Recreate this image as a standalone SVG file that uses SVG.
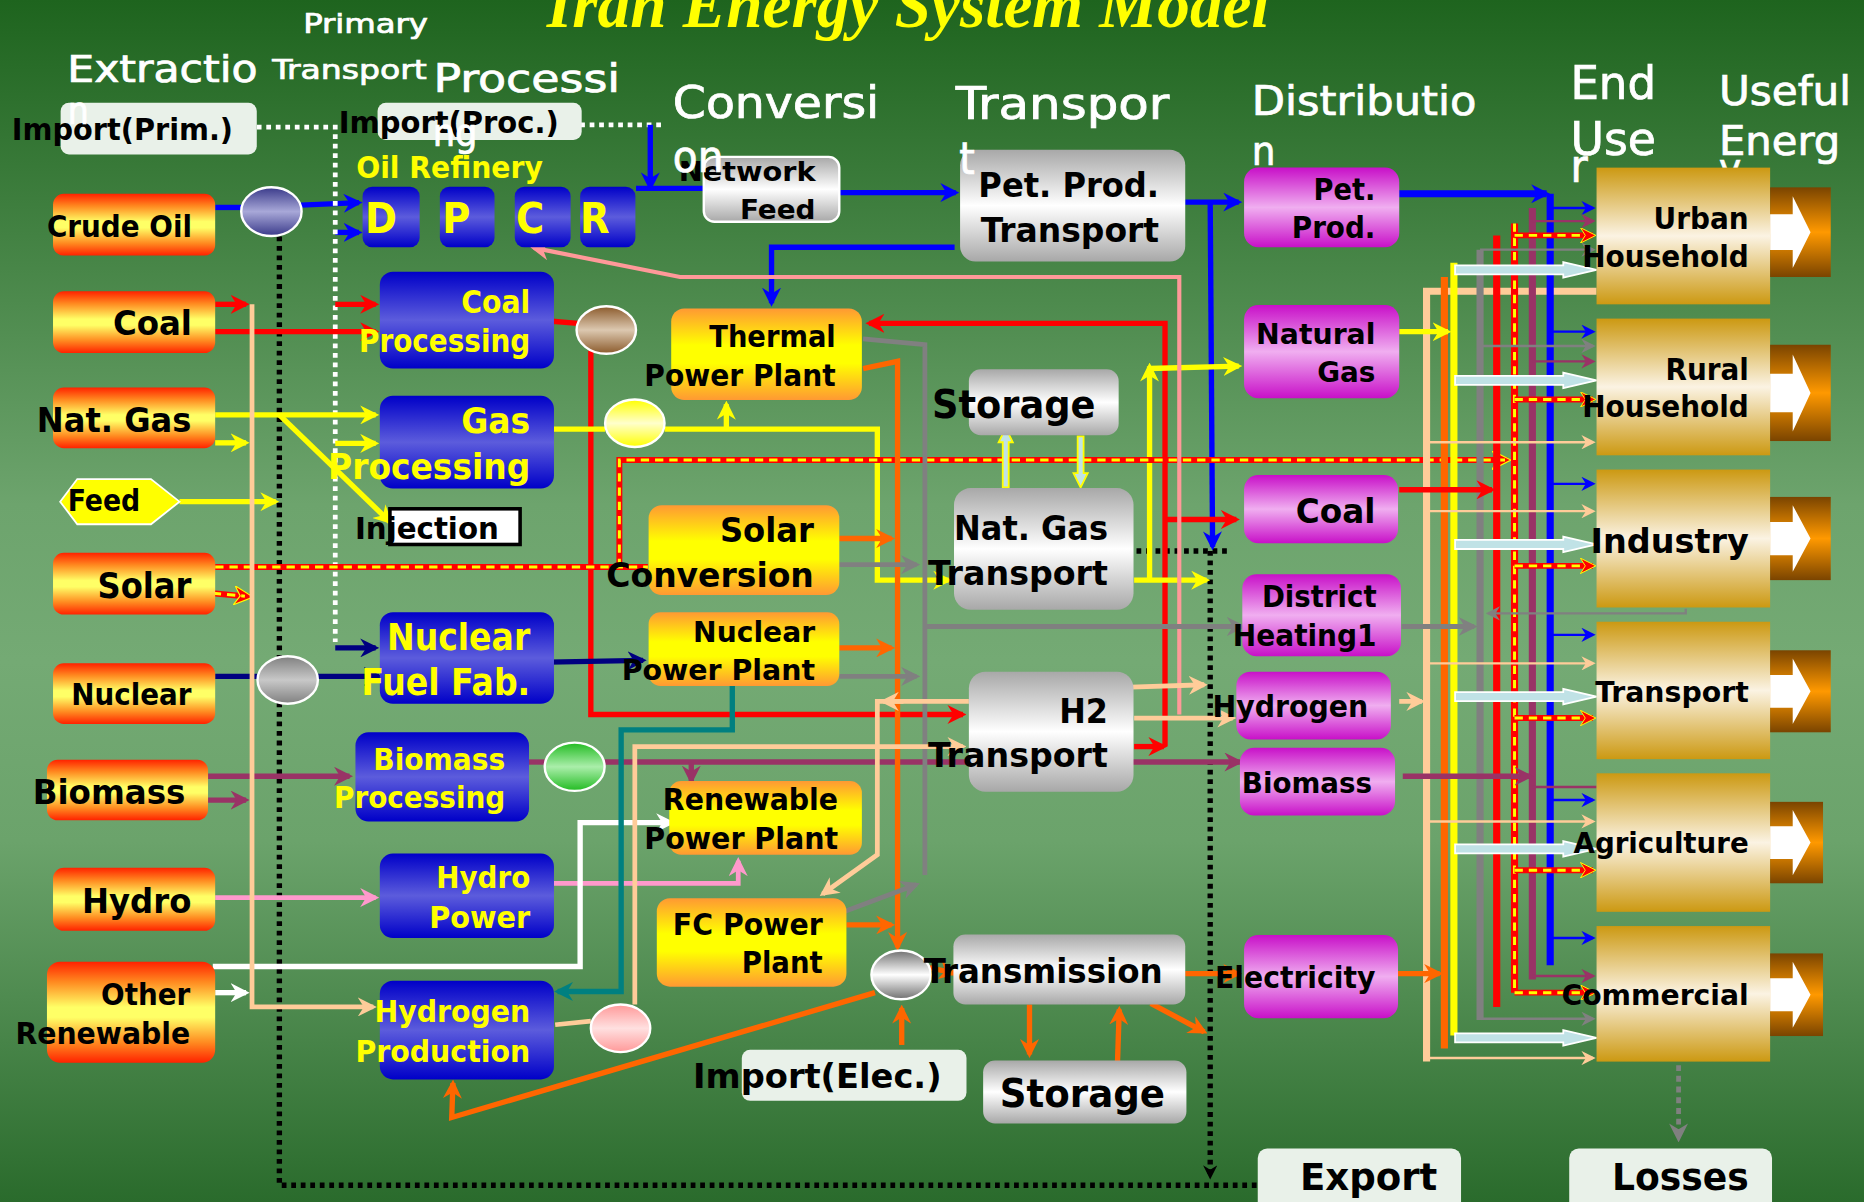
<svg xmlns="http://www.w3.org/2000/svg" width="1864" height="1202" viewBox="0 0 1864 1202">
<defs>
<style>
.f{font-family:'DejaVu Sans Condensed','DejaVu Sans','Liberation Sans',sans-serif;font-stretch:condensed}
.hd{fill:#fff;stroke:#fff;stroke-width:0.6}
.bk{fill:#000;font-weight:bold}
.yl{fill:#ffff00;font-weight:bold}
.k{fill:none;stroke-linejoin:miter}
.bl{stroke:#0000ff;stroke-width:4.5}
.nv{stroke:#000080;stroke-width:4.5}
.rd{stroke:#ff0000;stroke-width:4.5}
.ye{stroke:#ffff00;stroke-width:4.5}
.or{stroke:#ff6600;stroke-width:4.5}
.gr{stroke:#808080;stroke-width:4}
.pc{stroke:#ffcc99;stroke-width:4}
.pu{stroke:#993366;stroke-width:4.5}
.pk{stroke:#ff99cc;stroke-width:4}
.sa{stroke:#ff9999;stroke-width:3.5}
.te{stroke:#008080;stroke-width:4.5}
.wh{stroke:#ffffff;stroke-width:4.5}
.dk{stroke:#000;stroke-width:4.5;stroke-dasharray:4 4}
.dw{stroke:#fff;stroke-width:4;stroke-dasharray:4 4}
.ryr{stroke:#ff0000;stroke-width:5}
.ryy{stroke:#ffff00;stroke-width:2.5;stroke-dasharray:7 5}
.bus{stroke-width:6}
.thin{stroke-width:2}
.lb{fill:#c0e2e6;stroke:#fff;stroke-width:1.5}
.lbs{fill:#c0e2e6;stroke:#ffff00;stroke-width:1.5}
.ext{fill:url(#gExt)}
.pro{fill:url(#gBlue)}
.cnv{fill:url(#gConv)}
.trn{fill:url(#gGrey)}
.dis{fill:url(#gMag)}
.end{fill:url(#gGold)}
.ue{fill:url(#gBrown)}
.lt{fill:#e9f1e9}
.hub{stroke:#fff;stroke-width:2}
</style>
<linearGradient id="bg" x1="0" y1="0" x2="0" y2="1">
<stop offset="0" stop-color="#1e641e"/><stop offset="0.42" stop-color="#6da46d"/><stop offset="0.55" stop-color="#74aa74"/><stop offset="0.7" stop-color="#6ba36b"/><stop offset="1" stop-color="#2a6b2c"/>
</linearGradient>
<linearGradient id="gExt" x1="0" y1="0" x2="0" y2="1">
<stop offset="0" stop-color="#ff2200"/><stop offset="0.2" stop-color="#ff8a20"/><stop offset="0.45" stop-color="#ffff66"/><stop offset="0.55" stop-color="#ffff66"/><stop offset="0.8" stop-color="#ff8a20"/><stop offset="1" stop-color="#ff2200"/>
</linearGradient>
<linearGradient id="gBlue" x1="0" y1="0" x2="0" y2="1">
<stop offset="0" stop-color="#0000c8"/><stop offset="0.5" stop-color="#5c5cdc"/><stop offset="1" stop-color="#0000c8"/>
</linearGradient>
<linearGradient id="gConv" x1="0" y1="0" x2="0" y2="1">
<stop offset="0" stop-color="#ff9933"/><stop offset="0.4" stop-color="#ffff00"/><stop offset="0.6" stop-color="#ffff00"/><stop offset="1" stop-color="#ff9933"/>
</linearGradient>
<linearGradient id="gGrey" x1="0" y1="0" x2="0" y2="1">
<stop offset="0" stop-color="#a8a8a8"/><stop offset="0.5" stop-color="#ffffff"/><stop offset="1" stop-color="#a8a8a8"/>
</linearGradient>
<linearGradient id="gMag" x1="0" y1="0" x2="0" y2="1">
<stop offset="0" stop-color="#c810c8"/><stop offset="0.5" stop-color="#f0aef0"/><stop offset="1" stop-color="#c810c8"/>
</linearGradient>
<linearGradient id="gGold" x1="0" y1="0" x2="0" y2="1">
<stop offset="0" stop-color="#cc9912"/><stop offset="0.5" stop-color="#fbf3e3"/><stop offset="1" stop-color="#cc9912"/>
</linearGradient>
<linearGradient id="gBrown" x1="0" y1="0" x2="0" y2="1">
<stop offset="0" stop-color="#7a4400"/><stop offset="0.5" stop-color="#ff9900"/><stop offset="1" stop-color="#7a4400"/>
</linearGradient>
<linearGradient id="cCrude" x1="0" y1="0" x2="0" y2="1"><stop offset="0" stop-color="#3a3a8a"/><stop offset="0.5" stop-color="#a8a8d8"/><stop offset="1" stop-color="#3a3a8a"/></linearGradient>
<linearGradient id="cCoal" x1="0" y1="0" x2="0" y2="1"><stop offset="0" stop-color="#8b5a2b"/><stop offset="0.5" stop-color="#dcc8b0"/><stop offset="1" stop-color="#8b5a2b"/></linearGradient>
<linearGradient id="cGas" x1="0" y1="0" x2="0" y2="1"><stop offset="0" stop-color="#ffff00"/><stop offset="0.5" stop-color="#ffffcc"/><stop offset="1" stop-color="#ffff00"/></linearGradient>
<linearGradient id="cNuc" x1="0" y1="0" x2="0" y2="1"><stop offset="0" stop-color="#808080"/><stop offset="0.5" stop-color="#c8c8c8"/><stop offset="1" stop-color="#808080"/></linearGradient>
<linearGradient id="cBio" x1="0" y1="0" x2="0" y2="1"><stop offset="0" stop-color="#22bb22"/><stop offset="0.5" stop-color="#aaeeaa"/><stop offset="1" stop-color="#22bb22"/></linearGradient>
<linearGradient id="cH2" x1="0" y1="0" x2="0" y2="1"><stop offset="0" stop-color="#ff9999"/><stop offset="0.5" stop-color="#ffe0e0"/><stop offset="1" stop-color="#ff9999"/></linearGradient>
<linearGradient id="cEl" x1="0" y1="0" x2="0" y2="1"><stop offset="0" stop-color="#707070"/><stop offset="0.5" stop-color="#ffffff"/><stop offset="1" stop-color="#707070"/></linearGradient>
<marker id="m-bl" viewBox="0 0 16 16" refX="13" refY="8" markerWidth="16" markerHeight="16" markerUnits="userSpaceOnUse" orient="auto"><path d="M0,0 L16,8 L0,16 L5,8 Z" fill="#0000ff"/></marker>
<marker id="m-nv" viewBox="0 0 16 16" refX="13" refY="8" markerWidth="16" markerHeight="16" markerUnits="userSpaceOnUse" orient="auto"><path d="M0,0 L16,8 L0,16 L5,8 Z" fill="#000080"/></marker>
<marker id="m-rd" viewBox="0 0 16 16" refX="13" refY="8" markerWidth="16" markerHeight="16" markerUnits="userSpaceOnUse" orient="auto"><path d="M0,0 L16,8 L0,16 L5,8 Z" fill="#ff0000"/></marker>
<marker id="m-ye" viewBox="0 0 16 16" refX="13" refY="8" markerWidth="16" markerHeight="16" markerUnits="userSpaceOnUse" orient="auto"><path d="M0,0 L16,8 L0,16 L5,8 Z" fill="#ffff00"/></marker>
<marker id="m-or" viewBox="0 0 16 16" refX="13" refY="8" markerWidth="16" markerHeight="16" markerUnits="userSpaceOnUse" orient="auto"><path d="M0,0 L16,8 L0,16 L5,8 Z" fill="#ff6600"/></marker>
<marker id="m-gr" viewBox="0 0 16 16" refX="13" refY="8" markerWidth="16" markerHeight="16" markerUnits="userSpaceOnUse" orient="auto"><path d="M0,0 L16,8 L0,16 L5,8 Z" fill="#808080"/></marker>
<marker id="m-pc" viewBox="0 0 16 16" refX="13" refY="8" markerWidth="16" markerHeight="16" markerUnits="userSpaceOnUse" orient="auto"><path d="M0,0 L16,8 L0,16 L5,8 Z" fill="#ffcc99"/></marker>
<marker id="m-pu" viewBox="0 0 16 16" refX="13" refY="8" markerWidth="16" markerHeight="16" markerUnits="userSpaceOnUse" orient="auto"><path d="M0,0 L16,8 L0,16 L5,8 Z" fill="#993366"/></marker>
<marker id="m-pk" viewBox="0 0 16 16" refX="13" refY="8" markerWidth="16" markerHeight="16" markerUnits="userSpaceOnUse" orient="auto"><path d="M0,0 L16,8 L0,16 L5,8 Z" fill="#ff99cc"/></marker>
<marker id="m-sa" viewBox="0 0 16 16" refX="13" refY="8" markerWidth="16" markerHeight="16" markerUnits="userSpaceOnUse" orient="auto"><path d="M0,0 L16,8 L0,16 L5,8 Z" fill="#ff9999"/></marker>
<marker id="m-te" viewBox="0 0 16 16" refX="13" refY="8" markerWidth="16" markerHeight="16" markerUnits="userSpaceOnUse" orient="auto"><path d="M0,0 L16,8 L0,16 L5,8 Z" fill="#008080"/></marker>
<marker id="m-wh" viewBox="0 0 16 16" refX="13" refY="8" markerWidth="16" markerHeight="16" markerUnits="userSpaceOnUse" orient="auto"><path d="M0,0 L16,8 L0,16 L5,8 Z" fill="#ffffff"/></marker>
<marker id="m-ry" viewBox="0 0 16 16" refX="13" refY="8" markerWidth="16" markerHeight="16" markerUnits="userSpaceOnUse" orient="auto"><path d="M0,0 L16,8 L0,16 L5,8 Z" fill="#ff0000" stroke="#ffff00" stroke-width="1"/></marker>
<marker id="m-bk" viewBox="0 0 16 16" refX="13" refY="8" markerWidth="12" markerHeight="12" markerUnits="userSpaceOnUse" orient="auto"><path d="M0,0 L16,8 L0,16 L5,8 Z" fill="#000"/></marker>
<marker id="s-bl" viewBox="0 0 16 16" refX="13" refY="8" markerWidth="12" markerHeight="12" markerUnits="userSpaceOnUse" orient="auto"><path d="M0,0 L16,8 L0,16 L5,8 Z" fill="#0000ff"/></marker>
<marker id="s-pu" viewBox="0 0 16 16" refX="13" refY="8" markerWidth="12" markerHeight="12" markerUnits="userSpaceOnUse" orient="auto"><path d="M0,0 L16,8 L0,16 L5,8 Z" fill="#993366"/></marker>
<marker id="s-gr" viewBox="0 0 16 16" refX="13" refY="8" markerWidth="12" markerHeight="12" markerUnits="userSpaceOnUse" orient="auto"><path d="M0,0 L16,8 L0,16 L5,8 Z" fill="#808080"/></marker>
<marker id="s-pc" viewBox="0 0 16 16" refX="13" refY="8" markerWidth="12" markerHeight="12" markerUnits="userSpaceOnUse" orient="auto"><path d="M0,0 L16,8 L0,16 L5,8 Z" fill="#ffcc99"/></marker>
<marker id="s-ry" viewBox="0 0 16 16" refX="13" refY="8" markerWidth="13" markerHeight="13" markerUnits="userSpaceOnUse" orient="auto"><path d="M0,0 L16,8 L0,16 L5,8 Z" fill="#ff0000" stroke="#ffff00" stroke-width="1"/></marker>
</defs>
<rect x="0" y="0" width="1864" height="1202" fill="url(#bg)"/>
<g transform="scale(1.1888)">
<g id="title">
<text x="460" y="23" font-family="'Liberation Serif',serif" font-weight="bold" font-style="italic" font-size="55" fill="#ffff00" textLength="608" lengthAdjust="spacingAndGlyphs">Iran Energy System Model</text>
</g>
<g id="headers" class="f hd">
<text x="255" y="28" font-size="23" textLength="105" lengthAdjust="spacingAndGlyphs">Primary</text>
<text x="56.6" y="69" font-size="31" textLength="160" lengthAdjust="spacingAndGlyphs">Extractio</text>
<text x="229" y="66.7" font-size="23" textLength="130" lengthAdjust="spacingAndGlyphs">Transport</text>
<text x="364.6" y="77" font-size="33" textLength="157" lengthAdjust="spacingAndGlyphs">Processi</text>
<text x="566" y="99.5" font-size="38" textLength="173.6" lengthAdjust="spacingAndGlyphs">Conversi</text>
<text x="804" y="100" font-size="37" textLength="179.6" lengthAdjust="spacingAndGlyphs">Transpor</text>
<text x="1053" y="97" font-size="35" textLength="189" lengthAdjust="spacingAndGlyphs">Distributio</text>
<text x="1321" y="83" font-size="39" textLength="72" lengthAdjust="spacingAndGlyphs">End</text>
<text x="1321" y="130" font-size="39" textLength="72" lengthAdjust="spacingAndGlyphs">Use</text>
<text x="1321" y="153" font-size="39">r</text>
<text x="1446" y="88" font-size="35" textLength="111" lengthAdjust="spacingAndGlyphs">Useful</text>
<text x="1446" y="130" font-size="35" textLength="102" lengthAdjust="spacingAndGlyphs">Energ</text>
<text x="1446" y="153" font-size="35">y</text>
<text x="1053" y="139" font-size="35">n</text>
</g>
<g id="connectors">
<path class="k bl" d="M181,174.5 H204"/>
<path class="k bl" d="M253,172.5 L302,170.5" marker-end="url(#m-bl)"/>
<path class="k bl" d="M282,195.5 H302" marker-end="url(#m-bl)"/>
<path class="k dk" d="M235,199 V997 H1058"/>
<path class="k dk" d="M956,463.5 H1033"/>
<path class="k dk" d="M1018,463.5 V990" marker-end="url(#m-bk)"/>
<path class="k dw" d="M216,107 H282 V540"/>
<path class="k dw" d="M488,105 H557"/>
<path class="k nv" d="M282,545 H316" marker-end="url(#m-nv)"/>
<path class="k bl" d="M547,105 V158" marker-end="url(#m-bl)"/>
<path class="k bl" d="M535,158.5 H592"/>
<path class="k bl" d="M706,162 H804" marker-end="url(#m-bl)"/>
<path class="k bl" d="M803,208 H649 V255" marker-end="url(#m-bl)"/>
<path class="k bl" d="M997,170 H1042" marker-end="url(#m-bl)"/>
<path class="k bl" d="M1018,170 L1020,460" marker-end="url(#m-bl)"/>
<path class="k rd" d="M181,256 H207" marker-end="url(#m-rd)"/>
<path class="k rd" d="M181,279 H316" marker-end="url(#m-rd)"/>
<path class="k rd" d="M282,256 H316" marker-end="url(#m-rd)"/>
<path class="k rd" d="M462,270 L486,272"/>
<path class="k rd" d="M497,295 V601 H810" marker-end="url(#m-rd)"/>
<path class="k rd" d="M954,628 H979" marker-end="url(#m-rd)"/>
<path class="k rd" d="M980,628 V272 H731" marker-end="url(#m-rd)"/>
<path class="k rd" d="M980,437 H1040" marker-end="url(#m-rd)"/>
<path class="k ye" d="M181,349 H316" marker-end="url(#m-ye)"/>
<path class="k ye" d="M181,372.5 H207" marker-end="url(#m-ye)"/>
<path class="k ye" d="M282,373 H316" marker-end="url(#m-ye)"/>
<path class="k ye" d="M235,349 L328,439" marker-end="url(#m-ye)"/>
<path class="k ye" d="M151,422 H232" marker-end="url(#m-ye)"/>
<path class="k ye" d="M466,361 H509"/>
<path class="k ye" d="M559,361 H738 V488 H798" marker-end="url(#m-ye)"/>
<path class="k ye" d="M611,361 V340" marker-end="url(#m-ye)"/>
<path class="k ye" d="M954,488 H1015" marker-end="url(#m-ye)"/>
<path class="k ye" d="M967,488 V308" marker-end="url(#m-ye)"/>
<path class="k ye" d="M967,310 L1042,308" marker-end="url(#m-ye)"/>
<path class="k ryr" d="M181,477 H545"/>
<path class="k ryy" d="M181,477 H545"/>
<path class="k ryr" d="M521,477 V387 H1268" marker-end="url(#m-ry)"/>
<path class="k ryy" d="M521,477 V387 H1268"/>
<path class="k ryr" d="M179,499 L210,502" marker-end="url(#m-ry)"/>
<path class="k ryy" d="M179,499 L206,501.5"/>
<path class="k nv" d="M181,569 H217"/>
<path class="k nv" d="M267,569 H319" marker-end="url(#m-nv)"/>
<path class="k nv" d="M462,557 L541,555.5" marker-end="url(#m-nv)"/>
<path class="k pu" d="M175,653 H294" marker-end="url(#m-pu)"/>
<path class="k pu" d="M175,673 H207" marker-end="url(#m-pu)"/>
<path class="k pu" d="M444,641 H459"/>
<path class="k pu" d="M508,641 H1043" marker-end="url(#m-pu)"/>
<path class="k pu" d="M581.5,641 V657" marker-end="url(#m-pu)"/>
<path class="k pk" d="M181,755 H316" marker-end="url(#m-pk)"/>
<path class="k pk" d="M466,743 H621 V724" marker-end="url(#m-pk)"/>
<path class="k wh" d="M179,813 H488 V692 H565" marker-end="url(#m-wh)"/>
<path class="k wh" d="M181,835 H207" marker-end="url(#m-wh)"/>
<path class="k pc" d="M212,256 V847 H314" marker-end="url(#m-pc)"/>
<path class="k sa" d="M992,601 V233 H572 L449,208.5" marker-end="url(#m-sa)"/>
<path class="k or" d="M726,310 L755,304 V797" marker-end="url(#m-or)"/>
<path class="k or" d="M706,453 H750" marker-end="url(#m-or)"/>
<path class="k or" d="M706,545 H750" marker-end="url(#m-or)"/>
<path class="k or" d="M712,778 H750" marker-end="url(#m-or)"/>
<path class="k or" d="M777,813 L803,818.5" marker-end="url(#m-or)"/>
<path class="k or" d="M758.5,879 V848" marker-end="url(#m-or)"/>
<path class="k or" d="M736,835 L380,940 L381,911" marker-end="url(#m-or)"/>
<path class="k or" d="M997,819 H1042" marker-end="url(#m-or)"/>
<path class="k or" d="M866,845 V887" marker-end="url(#m-or)"/>
<path class="k or" d="M940,894 L941.5,849" marker-end="url(#m-or)"/>
<path class="k or" d="M968,844 L1013,868" marker-end="url(#m-or)"/>
<path class="k gr" d="M726,285 L778,290 V736"/>
<path class="k gr" d="M706,475 H771" marker-end="url(#m-gr)"/>
<path class="k gr" d="M706,569 H771" marker-end="url(#m-gr)"/>
<path class="k gr" d="M707,768 L771,744" marker-end="url(#m-gr)"/>
<path class="k gr" d="M778,527 H1045" marker-end="url(#m-gr)"/>
<path class="k te" d="M616,577 V614 H522.5 V834 H469" marker-end="url(#m-te)"/>
<path class="k pc" d="M815,590 H738 V719 L692,752" marker-end="url(#m-pc)"/>
<path class="k pc" d="M760,590 H743" marker-end="url(#m-pc)"/>
<path class="k pc" d="M467,862 L497,859"/>
<path class="k pc" d="M534,845 V628 H810" marker-end="url(#m-pc)"/>
<path class="k pc" d="M954,604 H1037" stroke-width="5" marker-end="url(#m-pc)"/>
<path class="k pc" d="M951,578 L1013,576" marker-end="url(#m-pc)"/>
<path class="k pc" d="M1177,590 H1196" marker-end="url(#m-pc)"/>
<path class="lbs" d="M843.5,410 V372 H840 L846,360 L852,372 H848.5 V410 Z"/>
<path class="lbs" d="M906.5,367 V398 H903 L909,410 L915,398 H911.5 V367 Z"/>
<path class="k pc bus" d="M1343,245 H1200 V893"/>
<path class="k or bus" d="M1215,233 V882"/>
<path class="k ye bus" d="M1223,221 V871"/>
<path class="k gr bus" d="M1245,210 V858"/>
<path class="k rd bus" d="M1259,198 V847"/>
<path class="k ryr bus" d="M1274,188 V835"/>
<path class="k ryy" d="M1274,188 V835" stroke-width="4" stroke-dasharray="4 4"/>
<path class="k pu bus" d="M1289,175 V824"/>
<path class="k bl bus" d="M1304,163 V812"/>
<path class="k bl bus" d="M1177,163 H1301" marker-end="url(#m-bl)"/>
<path class="k ye" d="M1177,279 H1218" marker-end="url(#m-ye)"/>
<path class="k rd" d="M1177,412 H1255" marker-end="url(#m-rd)"/>
<path class="k gr" d="M1179,527 H1240" marker-end="url(#m-gr)"/>
<path class="k pu" d="M1180,653 H1287" marker-end="url(#m-pu)"/>
<path class="k or" d="M1176,819 H1211" marker-end="url(#m-or)"/>
<path class="k bl thin" d="M1304,175 H1340" marker-end="url(#s-bl)"/>
<path class="k bl thin" d="M1304,279 H1340" marker-end="url(#s-bl)"/>
<path class="k bl thin" d="M1304,407 H1340" marker-end="url(#s-bl)"/>
<path class="k bl thin" d="M1304,534 H1340" marker-end="url(#s-bl)"/>
<path class="k bl thin" d="M1304,673 H1340" marker-end="url(#s-bl)"/>
<path class="k bl thin" d="M1304,789 H1340" marker-end="url(#s-bl)"/>
<path class="k pu thin" d="M1289,186 H1340" marker-end="url(#s-pu)"/>
<path class="k pu thin" d="M1289,304 H1340" marker-end="url(#s-pu)"/>
<path class="k pu thin" d="M1289,662 H1343"/>
<path class="k pu thin" d="M1289,821 H1340" marker-end="url(#s-pu)"/>
<path class="k gr thin" d="M1245,210 H1340" marker-end="url(#s-gr)"/>
<path class="k gr thin" d="M1245,291 H1340" marker-end="url(#s-gr)"/>
<path class="k gr thin" d="M1245,857 H1340" marker-end="url(#s-gr)"/>
<path class="k gr thin" d="M1418,512 V516 H1252" marker-end="url(#s-gr)"/>
<path class="k pc thin" d="M1200,372 H1340" marker-end="url(#s-pc)"/>
<path class="k pc thin" d="M1200,430 H1340" marker-end="url(#s-pc)"/>
<path class="k pc thin" d="M1200,558 H1340" marker-end="url(#s-pc)"/>
<path class="k pc thin" d="M1200,691 H1340" marker-end="url(#s-pc)"/>
<path class="k pc thin" d="M1200,890 H1340" marker-end="url(#s-pc)"/>
<path class="k ryr" stroke-width="4" d="M1274,198 H1340 M1274,336 H1340 M1274,476 H1340 M1274,604 H1340 M1274,732 H1340 M1274,835 H1340"/>
<path class="k ryy" stroke-width="2" d="M1274,198 H1332 M1274,336 H1332 M1274,476 H1332 M1274,604 H1332 M1274,732 H1332 M1274,835 H1332"/>
<path class="k" stroke="none" d="M1336,198 H1340" marker-end="url(#s-ry)"/>
<path class="k" stroke="none" d="M1336,336 H1340" marker-end="url(#s-ry)"/>
<path class="k" stroke="none" d="M1336,476 H1340" marker-end="url(#s-ry)"/>
<path class="k" stroke="none" d="M1336,604 H1340" marker-end="url(#s-ry)"/>
<path class="k" stroke="none" d="M1336,732 H1340" marker-end="url(#s-ry)"/>
<path class="k" stroke="none" d="M1336,835 H1340" marker-end="url(#s-ry)"/>
<path class="lb" d="M1224,223.2 H1315 V220.5 L1343,227 L1315,233.5 V230.8 H1224 Z"/>
<path class="lb" d="M1224,316.2 H1315 V313.5 L1343,320 L1315,326.5 V323.8 H1224 Z"/>
<path class="lb" d="M1224,454.2 H1315 V451.5 L1343,458 L1315,464.5 V461.8 H1224 Z"/>
<path class="lb" d="M1224,582.2 H1315 V579.5 L1343,586 L1315,592.5 V589.8 H1224 Z"/>
<path class="lb" d="M1224,710.2 H1315 V707.5 L1343,714 L1315,720.5 V717.8 H1224 Z"/>
<path class="lb" d="M1224,869.2 H1315 V866.5 L1343,873 L1315,879.5 V876.8 H1224 Z"/>
<path class="k gr" stroke-width="4.5" stroke-dasharray="5 4" d="M1412,896 V958" marker-end="url(#m-gr)"/>
</g>
<g id="import-prim"><rect class="lt" x="51" y="86.4" width="165" height="43.6" rx="7"/><text class="f bk" x="10" y="118" font-size="26" textLength="186" lengthAdjust="spacingAndGlyphs">Import(Prim.)</text></g>
<g id="import-proc"><rect class="lt" x="317.6" y="86.4" width="171.7" height="31.4" rx="7"/><text class="f bk" x="285" y="112" font-size="26" textLength="185" lengthAdjust="spacingAndGlyphs">Import(Proc.)</text></g>
<g id="crude-oil"><rect class="ext" x="44.6" y="163" width="136.4" height="52" rx="9"/><text class="f bk" x="39.5" y="199.5" font-size="26" textLength="122" lengthAdjust="spacingAndGlyphs">Crude Oil</text></g>
<g id="coal"><rect class="ext" x="44.6" y="245" width="136.4" height="52" rx="9"/><text class="f bk" x="95" y="282" font-size="29" textLength="66.5" lengthAdjust="spacingAndGlyphs">Coal</text></g>
<g id="nat-gas"><rect class="ext" x="44.6" y="326" width="136.4" height="51" rx="9"/><text class="f bk" x="31" y="363" font-size="29" textLength="130" lengthAdjust="spacingAndGlyphs">Nat. Gas</text></g>
<g id="feed"><path d="M50.6,422 L65,403 H127 L151,422 L127,441 H65 Z" fill="#ffff00" stroke="#fff" stroke-width="1.5"/><text class="f bk" x="57" y="430" font-size="25" textLength="61" lengthAdjust="spacingAndGlyphs">Feed</text></g>
<g id="solar"><rect class="ext" x="44.6" y="465" width="136.4" height="52" rx="9"/><text class="f bk" x="82" y="503" font-size="30" textLength="79" lengthAdjust="spacingAndGlyphs">Solar</text></g>
<g id="nuclear"><rect class="ext" x="44.6" y="558" width="136.4" height="51" rx="9"/><text class="f bk" x="60" y="593" font-size="26" textLength="101" lengthAdjust="spacingAndGlyphs">Nuclear</text></g>
<g id="biomass"><rect class="ext" x="39.5" y="639" width="135.5" height="51" rx="9"/><text class="f bk" x="27.5" y="676" font-size="29" textLength="128.5" lengthAdjust="spacingAndGlyphs">Biomass</text></g>
<g id="hydro"><rect class="ext" x="44.6" y="730" width="136.4" height="53" rx="9"/><text class="f bk" x="69" y="768" font-size="29" textLength="92" lengthAdjust="spacingAndGlyphs">Hydro</text></g>
<g id="other-renewable"><rect class="ext" x="39.5" y="809" width="141.5" height="85" rx="11"/><text class="f bk" x="85" y="845" font-size="26" textLength="75" lengthAdjust="spacingAndGlyphs">Other</text><text class="f bk" x="13" y="878" font-size="26" textLength="147" lengthAdjust="spacingAndGlyphs">Renewable</text></g>
<g id="hub-crude"><ellipse class="hub" cx="228.3" cy="178" rx="25.4" ry="20.5" fill="url(#cCrude)"/></g>
<g id="hub-nuclear"><ellipse class="hub" cx="242" cy="572" rx="25.4" ry="20" fill="url(#cNuc)"/></g>
<g id="oil-refinery"><text class="f yl" x="299.6" y="150" font-size="25" textLength="157" lengthAdjust="spacingAndGlyphs">Oil Refinery</text>
<rect class="pro" x="305" y="157" width="48" height="51" rx="8"/><rect class="pro" x="370" y="157" width="46" height="51" rx="8"/><rect class="pro" x="433" y="157" width="47" height="51" rx="8"/><rect class="pro" x="488" y="157" width="46.5" height="51" rx="8"/>
<text class="f yl" x="307" y="196" font-size="36">D</text><text class="f yl" x="372" y="196" font-size="36">P</text><text class="f yl" x="434" y="196" font-size="36">C</text><text class="f yl" x="488" y="196" font-size="36">R</text></g>
<g id="coal-processing"><rect class="pro" x="319.5" y="228.5" width="146.5" height="81.5" rx="11"/><text class="f yl" x="388" y="263.5" font-size="27" textLength="58" lengthAdjust="spacingAndGlyphs">Coal</text><text class="f yl" x="302" y="296" font-size="27" textLength="144" lengthAdjust="spacingAndGlyphs">Processing</text></g>
<g id="gas-processing"><rect class="pro" x="319.5" y="333" width="146.5" height="78" rx="11"/><text class="f yl" x="388" y="364" font-size="30" textLength="58" lengthAdjust="spacingAndGlyphs">Gas</text><text class="f yl" x="276" y="403" font-size="30" textLength="170" lengthAdjust="spacingAndGlyphs">Processing</text></g>
<g id="injection"><rect x="328" y="428" width="109.5" height="30" fill="#fff" stroke="#000" stroke-width="3"/><text class="f bk" x="298.6" y="453" font-size="26" textLength="121" lengthAdjust="spacingAndGlyphs">Injection</text></g>
<g id="nuclear-fuel-fab"><rect class="pro" x="319.5" y="515" width="146.5" height="77" rx="11"/><text class="f yl" x="325.5" y="547" font-size="31" textLength="120.5" lengthAdjust="spacingAndGlyphs">Nuclear</text><text class="f yl" x="304" y="585" font-size="31" textLength="142" lengthAdjust="spacingAndGlyphs">Fuel Fab.</text></g>
<g id="biomass-processing"><rect class="pro" x="299" y="616" width="146" height="75" rx="11"/><text class="f yl" x="314" y="648" font-size="26" textLength="111" lengthAdjust="spacingAndGlyphs">Biomass</text><text class="f yl" x="281" y="680" font-size="26" textLength="144" lengthAdjust="spacingAndGlyphs">Processing</text></g>
<g id="hydro-power"><rect class="pro" x="319.5" y="718" width="146.5" height="71" rx="11"/><text class="f yl" x="367" y="747" font-size="26" textLength="79" lengthAdjust="spacingAndGlyphs">Hydro</text><text class="f yl" x="361" y="780.6" font-size="26" textLength="85" lengthAdjust="spacingAndGlyphs">Power</text></g>
<g id="hydrogen-production"><rect class="pro" x="319.5" y="825" width="146.5" height="83" rx="11"/><text class="f yl" x="315" y="860" font-size="26" textLength="131" lengthAdjust="spacingAndGlyphs">Hydrogen</text><text class="f yl" x="299" y="893" font-size="26" textLength="147" lengthAdjust="spacingAndGlyphs">Production</text></g>
<g id="hub-coal"><ellipse class="hub" cx="510" cy="277.6" rx="25" ry="20" fill="url(#cCoal)"/></g>
<g id="hub-gas"><ellipse class="hub" cx="534" cy="356" rx="25" ry="20" fill="url(#cGas)"/></g>
<g id="hub-biomass"><ellipse class="hub" cx="483.4" cy="645" rx="25.2" ry="20.3" fill="url(#cBio)"/></g>
<g id="hub-hydrogen"><ellipse class="hub" cx="522" cy="865" rx="25" ry="20" fill="url(#cH2)"/></g>
<g id="hub-electricity"><ellipse class="hub" cx="758" cy="820" rx="25" ry="20.5" fill="url(#cEl)"/></g>
<g id="network-feed"><rect class="trn" x="592" y="132" width="114" height="54.5" rx="9" stroke="#fff" stroke-width="2"/><text class="f bk" x="571" y="152" font-size="23" textLength="115" lengthAdjust="spacingAndGlyphs">Network</text><text class="f bk" x="622.5" y="184.6" font-size="23" textLength="63.5" lengthAdjust="spacingAndGlyphs">Feed</text></g>
<g id="thermal-power-plant"><rect class="cnv" x="564.6" y="259.5" width="160.4" height="77" rx="11"/><text class="f bk" x="596.6" y="292" font-size="25" textLength="106.4" lengthAdjust="spacingAndGlyphs">Thermal</text><text class="f bk" x="542" y="325" font-size="25" textLength="161" lengthAdjust="spacingAndGlyphs">Power Plant</text></g>
<g id="solar-conversion"><rect class="cnv" x="545.6" y="425" width="160.4" height="75.5" rx="11"/><text class="f bk" x="605.6" y="456" font-size="29" textLength="79" lengthAdjust="spacingAndGlyphs">Solar</text><text class="f bk" x="510" y="493.5" font-size="29" textLength="174.6" lengthAdjust="spacingAndGlyphs">Conversion</text></g>
<g id="nuclear-power-plant"><rect class="cnv" x="545.6" y="515" width="160.4" height="62" rx="10"/><text class="f bk" x="583" y="540" font-size="24.5" textLength="102.6" lengthAdjust="spacingAndGlyphs">Nuclear</text><text class="f bk" x="523" y="572" font-size="24.5" textLength="162.6" lengthAdjust="spacingAndGlyphs">Power Plant</text></g>
<g id="renewable-power-plant"><rect class="cnv" x="563" y="657" width="162" height="62" rx="10"/><text class="f bk" x="557.6" y="681.5" font-size="25" textLength="147.4" lengthAdjust="spacingAndGlyphs">Renewable</text><text class="f bk" x="542" y="714" font-size="25" textLength="163" lengthAdjust="spacingAndGlyphs">Power Plant</text></g>
<g id="fc-power-plant"><rect class="cnv" x="552.5" y="755.6" width="159.5" height="74.4" rx="11"/><text class="f bk" x="566" y="786.5" font-size="25" textLength="126" lengthAdjust="spacingAndGlyphs">FC Power</text><text class="f bk" x="624" y="818.6" font-size="25" textLength="68" lengthAdjust="spacingAndGlyphs">Plant</text></g>
<g id="pet-prod-transport"><rect class="trn" x="807.6" y="126" width="189.4" height="94" rx="13"/><text class="f bk" x="823" y="165.5" font-size="29" textLength="152" lengthAdjust="spacingAndGlyphs">Pet. Prod.</text><text class="f bk" x="825" y="203.4" font-size="29" textLength="150" lengthAdjust="spacingAndGlyphs">Transport</text></g>
<g id="storage-gas"><rect class="trn" x="815" y="310.6" width="126" height="55.6" rx="10"/><text class="f bk" x="784" y="352" font-size="33" textLength="137.5" lengthAdjust="spacingAndGlyphs">Storage</text></g>
<g id="nat-gas-transport"><rect class="trn" x="802.5" y="410.6" width="151" height="102.4" rx="14"/><text class="f bk" x="802.5" y="454" font-size="29" textLength="129.5" lengthAdjust="spacingAndGlyphs">Nat. Gas</text><text class="f bk" x="780.6" y="492" font-size="29" textLength="151.4" lengthAdjust="spacingAndGlyphs">Transport</text></g>
<g id="h2-transport"><rect class="trn" x="815" y="565" width="138.5" height="101" rx="14"/><text class="f bk" x="891" y="608" font-size="29" textLength="41" lengthAdjust="spacingAndGlyphs">H2</text><text class="f bk" x="780.6" y="645" font-size="29" textLength="151.4" lengthAdjust="spacingAndGlyphs">Transport</text></g>
<g id="transmission"><rect class="trn" x="802" y="786" width="195" height="59" rx="10"/><text class="f bk" x="777" y="827" font-size="28" textLength="201" lengthAdjust="spacingAndGlyphs">Transmission</text></g>
<g id="storage-elec"><rect class="trn" x="827" y="892" width="171" height="53" rx="10"/><text class="f bk" x="841" y="931" font-size="33" textLength="139" lengthAdjust="spacingAndGlyphs">Storage</text></g>
<g id="import-elec"><rect class="lt" x="624" y="883" width="189" height="43" rx="7"/><text class="f bk" x="583" y="915" font-size="29" textLength="209" lengthAdjust="spacingAndGlyphs">Import(Elec.)</text></g>
<g id="dist-pet-prod"><rect class="dis" x="1046.5" y="141" width="130.5" height="67" rx="12"/><text class="f bk" x="1105" y="168" font-size="25" textLength="52" lengthAdjust="spacingAndGlyphs">Pet.</text><text class="f bk" x="1086.6" y="200" font-size="25" textLength="70.4" lengthAdjust="spacingAndGlyphs">Prod.</text></g>
<g id="dist-natural-gas"><rect class="dis" x="1046.5" y="256.6" width="130.5" height="78.4" rx="12"/><text class="f bk" x="1056.6" y="289" font-size="24" textLength="100.4" lengthAdjust="spacingAndGlyphs">Natural</text><text class="f bk" x="1108" y="321" font-size="24" textLength="49" lengthAdjust="spacingAndGlyphs">Gas</text></g>
<g id="dist-coal"><rect class="dis" x="1046.5" y="399.6" width="129.5" height="57.4" rx="12"/><text class="f bk" x="1090" y="440" font-size="29" textLength="67" lengthAdjust="spacingAndGlyphs">Coal</text></g>
<g id="dist-district-heating"><rect class="dis" x="1045" y="483" width="133.5" height="69" rx="12"/><text class="f bk" x="1061.5" y="511" font-size="26" textLength="96.5" lengthAdjust="spacingAndGlyphs">District</text><text class="f bk" x="1037" y="543.5" font-size="26" textLength="121" lengthAdjust="spacingAndGlyphs">Heating1</text></g>
<g id="dist-hydrogen"><rect class="dis" x="1040" y="565" width="130" height="57" rx="12"/><text class="f bk" x="1020" y="603" font-size="26" textLength="131" lengthAdjust="spacingAndGlyphs">Hydrogen</text></g>
<g id="dist-biomass"><rect class="dis" x="1043" y="629" width="130.5" height="57" rx="12"/><text class="f bk" x="1044.6" y="667" font-size="24" textLength="109.5" lengthAdjust="spacingAndGlyphs">Biomass</text></g>
<g id="dist-electricity"><rect class="dis" x="1046.5" y="786.5" width="129.5" height="70" rx="12"/><text class="f bk" x="1022" y="831" font-size="25" textLength="135" lengthAdjust="spacingAndGlyphs">Electricity</text></g>
<g id="urban-household"><rect class="end" x="1343" y="141" width="146" height="115"/><rect class="ue" x="1489" y="157.6" width="51" height="75.4"/><path d="M1489,180.2 H1508 V165.1 L1523,195.3 L1508,225.5 V210.4 H1489 Z" fill="#fff"/><text class="f bk" x="1391" y="193" font-size="26" textLength="80" lengthAdjust="spacingAndGlyphs">Urban</text><text class="f bk" x="1331" y="224.4" font-size="26" textLength="140" lengthAdjust="spacingAndGlyphs">Household</text></g>
<g id="rural-household"><rect class="end" x="1343" y="268" width="146" height="115"/><rect class="ue" x="1489" y="290" width="51" height="81"/><path d="M1489,314.3 H1508 V298.1 L1523,330.5 L1508,362.9 V346.7 H1489 Z" fill="#fff"/><text class="f bk" x="1401" y="320" font-size="26" textLength="70" lengthAdjust="spacingAndGlyphs">Rural</text><text class="f bk" x="1331" y="350.5" font-size="26" textLength="140" lengthAdjust="spacingAndGlyphs">Household</text></g>
<g id="industry"><rect class="end" x="1343" y="395" width="146" height="116"/><rect class="ue" x="1489" y="418" width="51" height="70"/><path d="M1489,439 H1508 V425 L1523,453 L1508,481 V467 H1489 Z" fill="#fff"/><text class="f bk" x="1338" y="465.5" font-size="28" textLength="133" lengthAdjust="spacingAndGlyphs">Industry</text></g>
<g id="transport-use"><rect class="end" x="1343" y="523" width="146" height="115.6"/><rect class="ue" x="1489" y="547" width="51" height="69"/><path d="M1489,567.7 H1508 V553.9 L1523,581.5 L1508,609.1 V595.3 H1489 Z" fill="#fff"/><text class="f bk" x="1342" y="590.4" font-size="24" textLength="129" lengthAdjust="spacingAndGlyphs">Transport</text></g>
<g id="agriculture"><rect class="end" x="1343" y="650.5" width="146" height="116.5"/><rect class="ue" x="1489" y="674.5" width="44.5" height="68.5"/><path d="M1489,695.1 H1508 V681.4 L1523,708.8 L1508,736.2 V722.5 H1489 Z" fill="#fff"/><text class="f bk" x="1323.6" y="717.7" font-size="24" textLength="147.4" lengthAdjust="spacingAndGlyphs">Agriculture</text></g>
<g id="commercial"><rect class="end" x="1343" y="779" width="146" height="114"/><rect class="ue" x="1489" y="802" width="44.5" height="69.5"/><path d="M1489,822.9 H1508 V809 L1523,836.8 L1508,864.6 V850.7 H1489 Z" fill="#fff"/><text class="f bk" x="1313.5" y="845.5" font-size="24" textLength="157.5" lengthAdjust="spacingAndGlyphs">Commercial</text></g>
<g id="export"><rect class="lt" x="1058" y="966" width="171" height="55" rx="8"/><text class="f bk" x="1093.5" y="1001" font-size="31" textLength="115.5" lengthAdjust="spacingAndGlyphs">Export</text></g>
<g id="losses"><rect class="lt" x="1320" y="966" width="170.6" height="55" rx="8"/><text class="f bk" x="1356" y="1001" font-size="31" textLength="115" lengthAdjust="spacingAndGlyphs">Losses</text></g>
<g id="header-wraps" class="f hd">
<text x="57" y="104" font-size="31">n</text>
<text x="364" y="123" font-size="33">ng</text>
<text x="566" y="145" font-size="38">on</text>
<text x="807" y="146" font-size="37">t</text>
</g>
</g>
</svg>
